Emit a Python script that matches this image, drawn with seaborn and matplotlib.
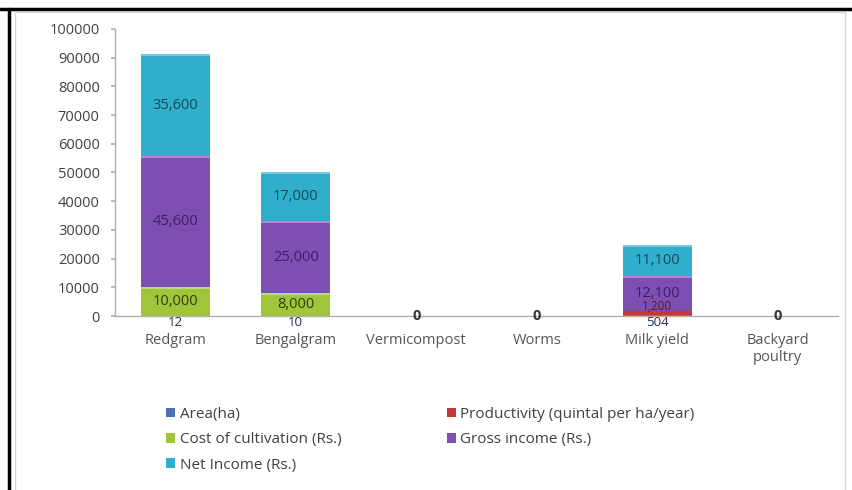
import matplotlib
matplotlib.use("Agg")
import matplotlib.pyplot as plt
from matplotlib.lines import Line2D
from matplotlib.patches import Patch, Rectangle
import numpy as np
import pandas as pd
import seaborn as sns

# ---- data -------------------------------------------------------------
categories = ["Redgram", "Bengalgram", "Vermicompost", "Worms", "Milk yield", "Backyard\npoultry"]
area = [12, 10, 0, 0, 504, 0]
productivity = [0, 0, 0, 0, 1200, 0]
cost = [10000, 8000, 0, 0, 0, 0]
gross = [45600, 25000, 0, 0, 12100, 0]
net = [35600, 17000, 0, 0, 11100, 0]

series_names = ["Area(ha)", "Productivity (quintal per ha/year)", "Cost of cultivation (Rs.)",
                "Gross income (Rs.)", "Net Income (Rs.)"]
series_values = [area, productivity, cost, gross, net]
series_colors = ["#4a72b0", "#c0393b", "#a2c43a", "#7d4fb3", "#2fafcc"]
label_colors = ["#1f2f55", "#5a1a14", "#2c3d0c", "#3a1f66", "#17485a"]

sns.set_theme(style="white")
plt.rcParams["font.family"] = ["Open Sans", "DejaVu Sans"]

fig = plt.figure(figsize=(8.53, 4.90), dpi=100)
ax = fig.add_axes([115 / 853, 1 - 316 / 490, (838 - 115) / 853, (316 - 29) / 490])

vals = np.array(series_values, dtype=float)
cum = np.cumsum(vals, axis=0)

# stacked bars: draw the cumulative totals from the top layer down
for i in range(len(series_names) - 1, -1, -1):
    df = pd.DataFrame({"category": categories, "value": cum[i]})
    sns.barplot(data=df, x="category", y="value", color=series_colors[i],
                width=0.57, saturation=1, ax=ax, edgecolor="none", linewidth=0)

# thin light highlight at top of each non-empty segment
for i in range(len(series_names)):
    for j in range(len(categories)):
        if vals[i, j] > 2000:
            ax.add_patch(Rectangle((j - 0.285, cum[i, j] - 700), 0.57, 700,
                                   facecolor="white", alpha=0.35, lw=0))

# segment labels
for i in [2, 3, 4]:
    for j in range(len(categories)):
        v = vals[i, j]
        if v > 0:
            ax.text(j, cum[i, j] - v / 2, f"{int(v):,}", ha="center", va="center",
                    fontsize=10.5, color=label_colors[i])
for j in range(len(categories)):
    if productivity[j] > 0:
        ax.annotate(f"{productivity[j]:,}", (j, area[j] + productivity[j] / 2),
                    xytext=(0, 4.5), textcoords="offset points", ha="center", va="center",
                    fontsize=8.5, color=label_colors[1])
    if area[j] > 0:
        ax.annotate(f"{area[j]:,}", (j, area[j] / 2), xytext=(0, -5),
                    textcoords="offset points", ha="center", va="center",
                    fontsize=9.5, color=label_colors[0])
    elif vals[:, j].sum() == 0:
        ax.text(j, 0, "0", ha="center", va="center", fontsize=10.5,
                color="#333333", fontweight="bold")

ax.set_ylim(0, 100000)
ax.set_xlim(-0.5, len(categories) - 0.5)
ax.set_yticks(np.arange(0, 100001, 10000))
ax.set_yticklabels([str(t) for t in range(0, 100001, 10000)])
ax.set_xlabel("")
ax.set_ylabel("")
for s in ["top", "right"]:
    ax.spines[s].set_visible(False)
for s in ["left", "bottom"]:
    ax.spines[s].set_color("#b0b0b0")
    ax.spines[s].set_linewidth(1)
ax.tick_params(axis="y", labelsize=10.5, colors="#404040", length=3, color="#b0b0b0", pad=8,
               left=True)
ax.tick_params(axis="x", labelsize=10.5, colors="#555555", length=0, pad=12)

# legend, filled row by row
handles = [Patch(facecolor=c, edgecolor="none") for c in series_colors]
order = [0, 2, 4, 1, 3]
fig.legend([handles[k] for k in order], [series_names[k] for k in order],
           loc="upper left", bbox_to_anchor=(152 / 853, 1 - 393 / 490), ncol=2,
           frameon=False, fontsize=11, labelcolor="#404040",
           handlelength=0.6, handleheight=0.6, handletextpad=0.3,
           labelspacing=0.68, columnspacing=6.9)

# outer frame
fig.add_artist(Rectangle((15 / 853, -0.1), (845 - 15) / 853, 1.1 - 12 / 490,
                         transform=fig.transFigure, fill=False, edgecolor="#d8d8d8", lw=1))
fig.add_artist(Line2D([0, 1], [1 - 9 / 490] * 2, transform=fig.transFigure, color="black", lw=2.5))
fig.add_artist(Line2D([9 / 853] * 2, [0, 1 - 9 / 490], transform=fig.transFigure, color="black", lw=2.5))

fig.savefig("out.png", dpi=100)
